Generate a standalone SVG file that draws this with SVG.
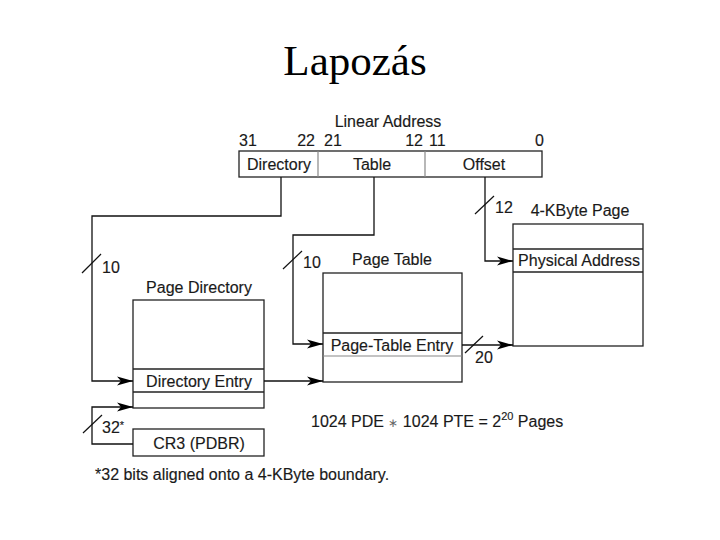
<svg xmlns="http://www.w3.org/2000/svg" width="720" height="540" viewBox="0 0 720 540">
<style>
text{font-family:"Liberation Sans",Arial,sans-serif;font-size:16px;fill:#1a1a1a;stroke:#1a1a1a;stroke-width:0.15}
.title{font-family:"Liberation Serif","Times New Roman",serif;font-size:43px;fill:#000;stroke:none}
.box{fill:#fff;stroke:#222;stroke-width:1.3}
.div{stroke:#222;stroke-width:1.3}
.ldiv{stroke:#888;stroke-width:1.2}
.wire{fill:none;stroke:#111;stroke-width:1.3}
.slash{stroke:#111;stroke-width:1.2}
.c{text-anchor:middle}
.e{text-anchor:end}
</style>
<defs>
<marker id="arr" markerUnits="userSpaceOnUse" markerWidth="18" markerHeight="12" refX="16" refY="6" orient="auto">
<path d="M0,1.5 L16,6 L0,10.5 L4,6 Z" fill="#000"/>
</marker>
</defs>
<rect width="720" height="540" fill="#fff"/>
<text class="title c" x="355" y="75">Lapozás</text>

<g id="linear-address">
<text class="c" x="388" y="127">Linear Address</text>
<text x="239" y="146">31</text>
<text class="e" x="315" y="146">22</text>
<text x="324" y="146">21</text>
<text class="e" x="423" y="146">12</text>
<text x="429" y="146">11</text>
<text class="e" x="544" y="146">0</text>
<rect class="box" x="239" y="151" width="303" height="26"/>
<line class="ldiv" x1="318" y1="151" x2="318" y2="177"/>
<line class="ldiv" x1="425" y1="151" x2="425" y2="177"/>
<text class="c" x="279" y="170">Directory</text>
<text class="c" x="372" y="170">Table</text>
<text class="c" x="484" y="170">Offset</text>
</g>

<g id="page-directory">
<text class="c" x="199" y="293">Page Directory</text>
<rect class="box" x="133" y="300" width="131" height="108"/>
<line class="div" x1="133" y1="369" x2="264" y2="369"/>
<line class="div" x1="133" y1="392" x2="264" y2="392"/>
<text class="c" x="199" y="387">Directory Entry</text>
</g>

<g id="cr3">
<rect class="box" x="133" y="429" width="131" height="27"/>
<text class="c" x="199" y="449">CR3 (PDBR)</text>
</g>

<g id="page-table">
<text class="c" x="392" y="265">Page Table</text>
<rect class="box" x="323" y="273" width="139" height="109"/>
<line class="div" x1="323" y1="333" x2="462" y2="333"/>
<line class="ldiv" x1="323" y1="356" x2="462" y2="356"/>
<text class="c" x="392" y="351">Page-Table Entry</text>
</g>

<g id="page">
<text class="c" x="580" y="216">4-KByte Page</text>
<rect class="box" x="513" y="224" width="130" height="122"/>
<line class="div" x1="513" y1="249" x2="643" y2="249"/>
<line class="div" x1="513" y1="272" x2="643" y2="272"/>
<text class="c" x="579" y="266">Physical Address</text>
</g>

<g id="connectors">
<path class="wire" d="M281,177 V216 H92 V381 H133" marker-end="url(#arr)"/>
<path class="wire" d="M374,177 V235 H293 V344 H323" marker-end="url(#arr)"/>
<path class="wire" d="M485,177 V261 H513" marker-end="url(#arr)"/>
<path class="wire" d="M264,381 H323" marker-end="url(#arr)"/>
<path class="wire" d="M462,345 H513" marker-end="url(#arr)"/>
<path class="wire" d="M133,444 H92 V407 H133" marker-end="url(#arr)"/>
<line class="slash" x1="82" y1="273" x2="101" y2="254"/>
<text x="102" y="273">10</text>
<line class="slash" x1="283" y1="269" x2="302" y2="251"/>
<text x="303" y="268">10</text>
<line class="slash" x1="475" y1="214" x2="494" y2="196"/>
<text x="495" y="213">12</text>
<line class="slash" x1="465" y1="353" x2="483" y2="336"/>
<text x="475" y="363">20</text>
<line class="slash" x1="83" y1="433" x2="102" y2="415"/>
<text x="102" y="433">32<tspan font-size="11" dy="-4">*</tspan></text>
</g>

<text x="311" y="427">1024 PDE <tspan font-size="12" fill="#666" stroke="none">∗</tspan> 1024 PTE = 2<tspan font-size="11" dy="-7">20</tspan><tspan dy="7"> Pages</tspan></text>
<text x="95" y="480">*32 bits aligned onto a 4-KByte boundary.</text>
</svg>
